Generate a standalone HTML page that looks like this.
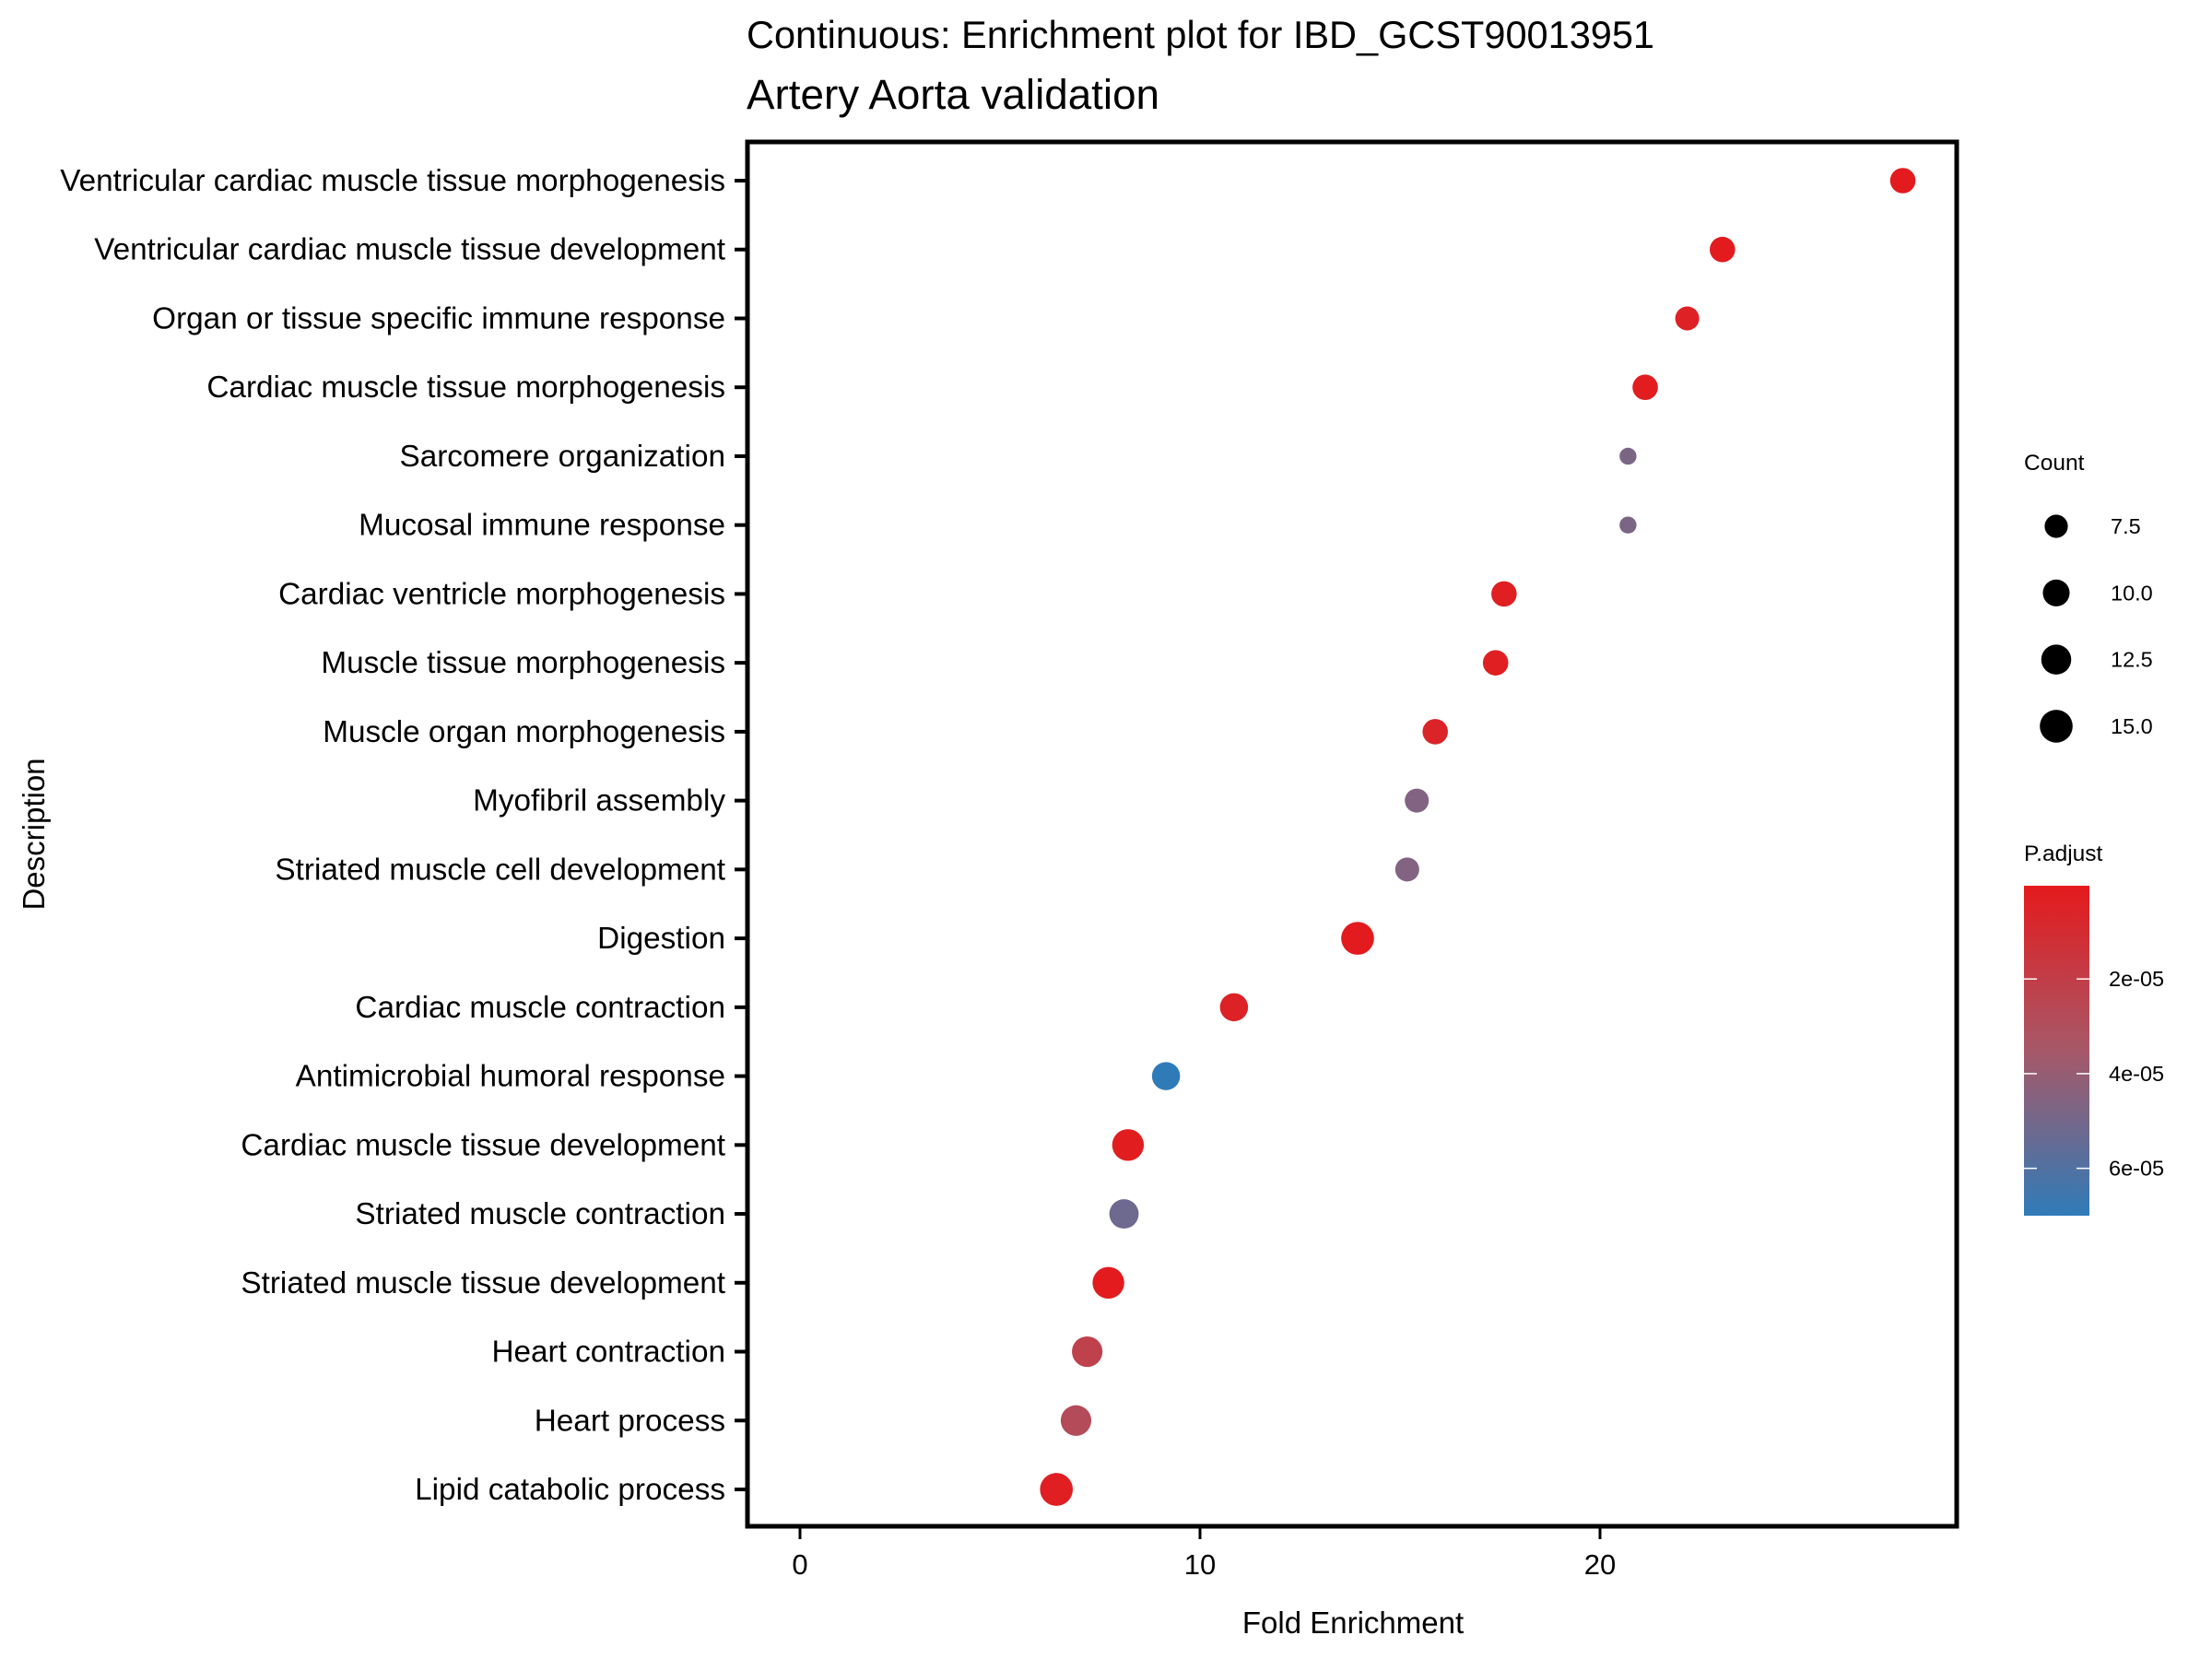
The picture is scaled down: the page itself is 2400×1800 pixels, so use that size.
<!DOCTYPE html>
<html><head><meta charset="utf-8"><style>
html,body{margin:0;padding:0;background:#fff;}
svg{display:block;font-family:"Liberation Sans",Arial,sans-serif;}
</style></head><body>
<svg id="chart" width="2400" height="1800" viewBox="0 0 2400 1800">
<defs>
<linearGradient id="pgrad" x1="0" y1="0" x2="0" y2="1">
<stop offset="0" stop-color="#E41A1C"/>
<stop offset="0.5" stop-color="#A75868"/>
<stop offset="1" stop-color="#2F7BB8"/>
</linearGradient>
</defs>
<text x="810" y="52" font-size="41.5">Continuous: Enrichment plot for IBD_GCST90013951</text>
<text x="810" y="118" font-size="45.8">Artery Aorta validation</text>
<g id="marks"></g>
<rect x="811" y="154" width="1312" height="1502" fill="none" stroke="#000" stroke-width="5"/>
<g id="axes"></g>
<text x="1468" y="1772" font-size="33" text-anchor="middle">Fold Enrichment</text>
<text transform="translate(48,905) rotate(-90)" font-size="33" text-anchor="middle">Description</text>
<g id="sizeLegend">
<text x="2196" y="510" font-size="24.5">Count</text>
</g>
<g id="colorLegend">
<text x="2196" y="934" font-size="24.5">P.adjust</text>
<rect x="2196" y="961" width="71" height="358" fill="url(#pgrad)"/>
</g>
</svg>
<script>
const categories = ["Ventricular cardiac muscle tissue morphogenesis","Ventricular cardiac muscle tissue development","Organ or tissue specific immune response","Cardiac muscle tissue morphogenesis","Sarcomere organization","Mucosal immune response","Cardiac ventricle morphogenesis","Muscle tissue morphogenesis","Muscle organ morphogenesis","Myofibril assembly","Striated muscle cell development","Digestion","Cardiac muscle contraction","Antimicrobial humoral response","Cardiac muscle tissue development","Striated muscle contraction","Striated muscle tissue development","Heart contraction","Heart process","Lipid catabolic process"];
const foldEnrichment = [27.57,23.06,22.18,21.13,20.70,20.70,17.60,17.39,15.88,15.42,15.18,13.94,10.85,9.15,8.20,8.10,7.71,7.18,6.90,6.41];
const counts = [9,9,8,9,4,4,9,9,9,8,8,15,11,11,14,12,14,13,13,15];
const pAdjust = [1e-6,1e-6,4e-6,2e-6,4.8e-5,4.8e-5,3e-6,3e-6,6e-6,4.6e-5,4.6e-5,1e-6,5e-6,7e-5,2e-6,5.2e-5,1e-6,2.2e-5,2.8e-5,3e-6];
const xTicks = [0,10,20];
const sizeBreaks = [7.5,10.0,12.5,15.0];
const sizeLabels = ["7.5","10.0","12.5","15.0"];
const colorTicks = [2e-5,4e-5,6e-5];
const colorTickLabels = ["2e-05","4e-05","6e-05"];

const NS="http://www.w3.org/2000/svg";
const xS = v => 868 + v*43.4;
const yS = i => 196 + i*(1616-196)/(categories.length-1);
const rS = c => 4.6*Math.sqrt(c);
const pMin=3e-7, pMax=7e-5;
const cbY = p => 961 + (p-pMin)/(pMax-pMin)*358;
function lerp(a,b,t){return Math.round(a+(b-a)*t);}
function col(p){
  let t=Math.max(0,Math.min(1,(p-pMin)/(pMax-pMin)));
  const s=[[228,26,28],[167,88,104],[47,123,184]];
  let a,b,u; if(t<0.5){a=s[0];b=s[1];u=t/0.5;}else{a=s[1];b=s[2];u=(t-0.5)/0.5;}
  return `rgb(${lerp(a[0],b[0],u)},${lerp(a[1],b[1],u)},${lerp(a[2],b[2],u)})`;
}
function mk(tag,attrs,parent,text){const e=document.createElementNS(NS,tag);for(const k in attrs)e.setAttribute(k,attrs[k]);if(text!==undefined)e.textContent=text;parent.appendChild(e);return e;}
const marks=document.getElementById('marks'), axes=document.getElementById('axes');
categories.forEach((c,i)=>{
  const y=yS(i);
  const lab=mk('text',{x:787,y:y+11,'font-size':33.3,'text-anchor':'end'},axes,c);
  
  
  const t=mk('line',{x1:797,x2:811,y1:y,y2:y,stroke:'#000','stroke-width':4},axes);
  
  
  const d=mk('circle',{cx:xS(foldEnrichment[i]),cy:y,r:rS(counts[i]),fill:col(pAdjust[i])},marks);
  
  
});
xTicks.forEach(v=>{
  const x=xS(v);
  const t=mk('line',{x1:x,x2:x,y1:1656,y2:1670,stroke:'#000','stroke-width':3},axes);
  
  
  const l=mk('text',{x:x,y:1708,'font-size':31,'text-anchor':'middle'},axes,String(v));
  
  
});
const sl=document.getElementById('sizeLegend');
sizeBreaks.forEach((b,i)=>{
  const y=571+i*72.3;
  const d=mk('circle',{cx:2231,cy:y,r:rS(b),fill:'#000'},sl);
  
  
  const l=mk('text',{x:2290,y:y+8,'font-size':23.5},sl,sizeLabels[i]);
  
  
});
const cl=document.getElementById('colorLegend');
colorTicks.forEach((p,i)=>{
  const y=cbY(p);
  mk('line',{x1:2196,x2:2210,y1:y,y2:y,stroke:'#fff','stroke-width':1.5},cl);
  mk('line',{x1:2253,x2:2267,y1:y,y2:y,stroke:'#fff','stroke-width':1.5},cl);
  const l=mk('text',{x:2288,y:y+8,'font-size':23.5},cl,colorTickLabels[i]);
  
  
});
</script>
</body></html>
